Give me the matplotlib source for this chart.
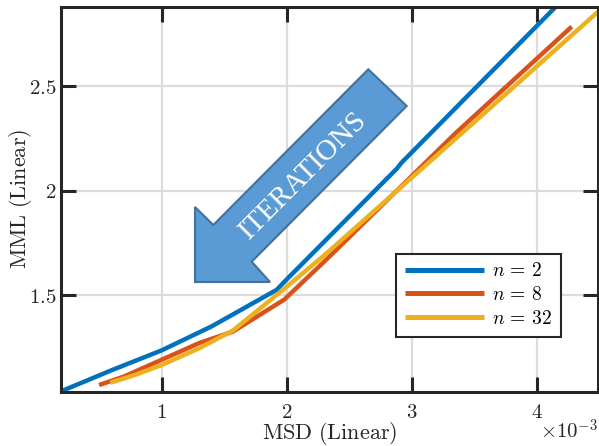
import matplotlib
matplotlib.use("Agg")
import matplotlib.pyplot as plt
from matplotlib.patches import Polygon
from matplotlib.ticker import FuncFormatter, FixedLocator

plt.rcParams['mathtext.fontset'] = 'cm'
plt.rcParams['font.family'] = ['DejaVu Serif']

# ---- data (MSD in units of 1e-3) ----
blue_x = [0.20, 0.60, 1.00, 1.40, 1.92, 2.00, 2.88, 2.92, 4.20]
blue_y = [1.04, 1.14, 1.235, 1.35, 1.525, 1.575, 2.105, 2.135, 2.91]
red_x = [0.50, 0.70, 1.00, 1.30, 1.57, 1.98, 2.30, 3.35, 4.28]
red_y = [1.069, 1.11, 1.19, 1.27, 1.325, 1.478, 1.66, 2.275, 2.786]
yel_x = [0.59, 0.80, 1.00, 1.30, 1.57, 1.95, 2.30, 3.40, 4.49]
yel_y = [1.080, 1.12, 1.165, 1.245, 1.33, 1.515, 1.69, 2.275, 2.857]
labels = ['$n\\,=\\,2$', '$n\\,=\\,8$', '$n\\,=\\,32$']
colors = ['#0072BD', '#D95319', '#EDB120']
xticks = [1, 2, 3, 4]
yticks = [1.5, 2.0, 2.5]

W, H = 599, 446
fig = plt.figure(figsize=(W / 100, H / 100), dpi=100)
ax = fig.add_axes([61 / W, 1 - 391.7 / H, (598 - 61) / W, (391.7 - 7) / H])

for xs, ys, c, lab in zip([blue_x, red_x, yel_x], [blue_y, red_y, yel_y], colors, labels):
    ax.plot(xs, ys, color=c, lw=3.2, label=lab, solid_capstyle='butt',
            solid_joinstyle='round')

ax.set_xlim(0.195, 4.49)
ax.set_ylim(1.037, 2.88)
ax.xaxis.set_major_locator(FixedLocator(xticks))
ax.yaxis.set_major_locator(FixedLocator(yticks))
fmt = FuncFormatter(lambda v, p: '$%g$' % v)
ax.xaxis.set_major_formatter(fmt)
ax.yaxis.set_major_formatter(fmt)

ax.set_axisbelow(True)
ax.grid(True, color='#dcdcdc', lw=1.6)
for s in ax.spines.values():
    s.set_linewidth(2.2)
    s.set_color('#262626')
ax.tick_params(direction='in', length=11, width=2.2, top=True, right=True,
               labelsize=15, colors='#262626')
ax.tick_params(axis='x', pad=8)
ax.tick_params(axis='y', pad=3)

fig.text(329.5 / W, 1 - 439 / H, '$\\mathrm{MSD\\ (Linear)}$', fontsize=16,
         ha='center', va='baseline', color='#262626')
fig.text(21 / W, 1 - 199 / H, '$\\mathrm{MML\\ (Linear)}$', fontsize=16,
         ha='center', va='center', rotation=90, color='#262626')
fig.text(598 / W, 1 - 439 / H, '$\\times10^{-3}$', fontsize=15, ha='right',
         va='baseline', color='#262626')

leg = ax.legend(loc='center', bbox_to_anchor=(0.777, 0.251), bbox_transform=ax.transAxes,
                fontsize=14, handlelength=4.1, handletextpad=0.4, borderpad=0.45,
                labelspacing=0.3, fancybox=False, framealpha=1, edgecolor='#262626')
leg.get_frame().set_linewidth(1.5)
for ln in leg.get_lines():
    ln.set_linewidth(3.6)

# ---- block arrow annotation (pixel positions -> figure fraction) ----
arrow_px = [(195, 282), (195, 207), (213.3, 225), (368.3, 69.3),
            (406.7, 106), (251.7, 261.7), (270, 282)]
arrow = Polygon([(x / W, 1 - y / H) for x, y in arrow_px], closed=True,
                transform=fig.transFigure, facecolor='#5B9BD5', edgecolor='#41719C',
                lw=1.5, zorder=5)
fig.patches.append(arrow)
fig.text(303.3 / W, 1 - 175.8 / H, 'ITERATIONS', rotation=45, rotation_mode='anchor',
         ha='center', va='center', color='white', fontsize=21,
         family='Liberation Serif', zorder=6)

fig.savefig('out.png', dpi=100)
